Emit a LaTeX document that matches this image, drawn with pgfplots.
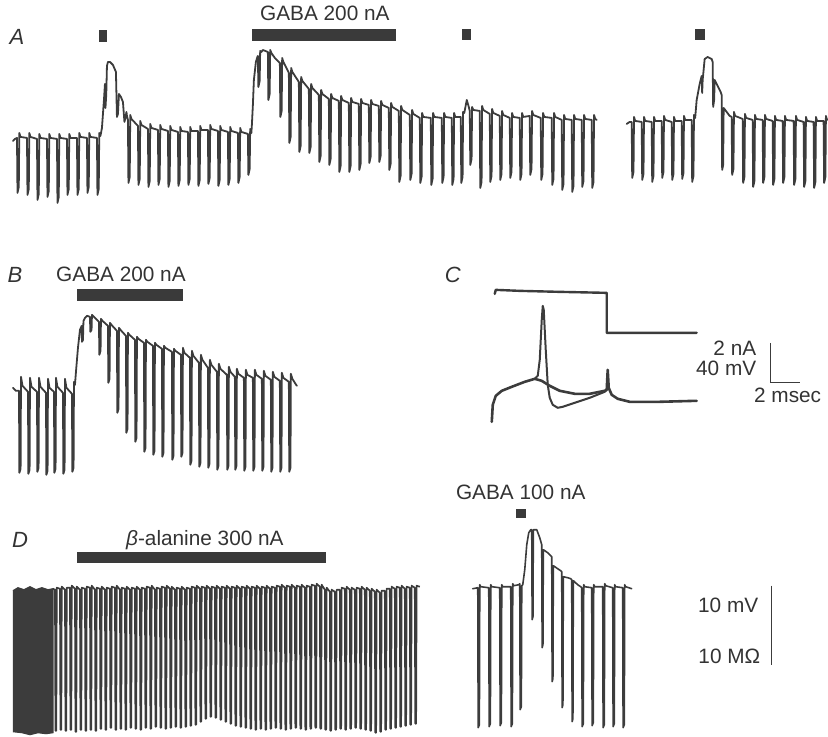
\documentclass[border=0pt]{standalone}
\usepackage{pgfplots}
\pgfplotsset{compat=1.18}
\usepackage{fontspec}
\setmainfont{Liberation Sans}
\definecolor{tr}{HTML}{3C3C3C}
\definecolor{barc}{HTML}{3A3A3A}
\begin{document}
\begin{tikzpicture}[
  trace/.style={draw=tr, line width=0.9pt, line join=round, line cap=round},
  lab/.style={font=\fontsize{10.4}{12}\selectfont, text=black!80, inner sep=0pt},
  pan/.style={font=\fontsize{11}{13}\selectfont\itshape, text=black!80, inner sep=0pt},
]
\begin{axis}[
  width=414pt, height=368.5pt, scale only axis,
  xmin=0, xmax=828, ymin=0, ymax=737, y dir=reverse,
  hide axis, clip=false,
]
\path (axis cs:0,0) rectangle (axis cs:828,737);

% ---- A: application marks
\addplot[fill=barc, draw=none] coordinates {(99,30) (107,30) (107,42) (99,42)};
\addplot[fill=barc, draw=none] coordinates {(252,29) (396,29) (396,41) (252,41)};
\addplot[fill=barc, draw=none] coordinates {(462,29) (471,29) (471,40) (462,40)};
\addplot[fill=barc, draw=none] coordinates {(695,29) (705,29) (705,40) (695,40)};

% ---- A: first trace
\addplot[trace] coordinates {
(13,141) (15,139)
(17,138) (17.5,193) (18.8,187) (19.3,133) (20.5,137)
(27,138) (27.5,195) (28.8,189) (29.3,133) (30.5,137)
(37,139) (37.5,200) (38.8,194) (39.3,134) (40.5,138)
(47,139) (47.5,197) (48.8,191) (49.3,134) (50.5,138)
(57,139) (57.5,203) (58.8,197) (59.3,134) (60.5,138)
(67,139) (67.5,195) (68.8,189) (69.3,134) (70.5,138)
(77,138) (77.5,195) (78.8,189) (79.3,133) (80.5,137)
(87,138) (87.5,193) (88.8,187) (89.3,133) (90.5,137)
(97,138) (97.5,195) (98.8,189) (99.3,133) (100.5,136)
(102,128) (104,100) (105,84) (105.5,108) (106.3,95) (107,66) (108,62) (110,62) (113,65) (116,72)
(117,117) (118,114) (119,94) (121,97) (123,102) (124.5,122) (125.5,118) (126.5,112) (127,116)
(128,120) (128.5,183) (129.8,177) (130.3,115) (131.5,119)
(138,126) (138.5,185) (139.8,179) (140.3,121) (141.5,125)
(148,129) (148.5,187) (149.8,181) (150.3,124) (151.5,128)
(158,130) (158.5,185) (159.8,179) (160.3,125) (161.5,129)
(168,131) (168.5,187) (169.8,181) (170.3,126) (171.5,130)
(178,132) (178.5,186) (179.8,180) (180.3,127) (181.5,131)
(188,132) (188.5,185) (189.8,179) (190.3,127) (191.5,131)
(198,131) (198.5,186) (199.8,180) (200.3,126) (201.5,130)
(208,130) (208.5,184) (209.8,178) (210.3,125) (211.5,129)
(218,131) (218.5,186) (219.8,180) (220.3,126) (221.5,130)
(228,132) (228.5,185) (229.8,179) (230.3,127) (231.5,131)
(238,133) (238.5,183) (239.8,177) (240.3,128) (241.5,132)
(248,134) (248.5,175) (249.8,169) (250.3,129) (251.5,133)
(252,125) (253,105) (254,80) (256,62) (257.5,57)
(258,56) (258.5,87) (259.8,81) (260.3,51) (261.5,52) (263,50)
(268,52) (268.5,100) (269.8,94) (270.3,50) (271.5,53) (275,58)
(280,63) (280.5,117) (281.8,111) (282.3,58) (283.5,62)
(289,73) (289.5,143) (290.8,137) (291.3,68) (292.5,72)
(299,82) (299.5,152) (300.8,146) (301.3,77) (302.5,81)
(309,89) (309.5,153) (310.8,147) (311.3,84) (312.5,88)
(319,95) (319.5,162) (320.8,156) (321.3,90) (322.5,94)
(329,99) (329.5,165) (330.8,159) (331.3,94) (332.5,98)
(339,101) (339.5,172) (340.8,166) (341.3,96) (342.5,100)
(349,103) (349.5,172) (350.8,166) (351.3,98) (352.5,102)
(359,104) (359.5,170) (360.8,164) (361.3,99) (362.5,103)
(369,105) (369.5,163) (370.8,157) (371.3,100) (372.5,104)
(379,106) (379.5,162) (380.8,156) (381.3,101) (382.5,105)
(389,108) (389.5,170) (390.8,164) (391.3,103) (392.5,107)
(399,111) (399.5,182) (400.8,176) (401.3,106) (402.5,110)
(410,115) (410.5,180) (411.8,174) (412.3,110) (413.5,114)
(420,118) (420.5,183) (421.8,177) (422.3,113) (423.5,117)
(431,118) (431.5,185) (432.8,179) (433.3,113) (434.5,117)
(442,118) (442.5,183) (443.8,177) (444.3,113) (445.5,117)
(452,118) (452.5,185) (453.8,179) (454.3,113) (455.5,117)
(461,117) (461.5,183) (462.8,177) (463.3,112) (464.5,113) (467,100) (469,107)
(470,111) (470.5,165) (471.8,159) (472.3,107) (473.5,110)
(480,111) (480.5,188) (481.8,182) (482.3,106) (483.5,110)
(490,114) (490.5,182) (491.8,176) (492.3,109) (493.5,113)
(500,116) (500.5,180) (501.8,174) (502.3,111) (503.5,115)
(510,118) (510.5,178) (511.8,172) (512.3,113) (513.5,117)
(520,118) (520.5,180) (521.8,174) (522.3,113) (523.5,117)
(530,116) (530.5,175) (531.8,169) (532.3,111) (533.5,115)
(541,118) (541.5,180) (542.8,174) (543.3,113) (544.5,117)
(552,118) (552.5,185) (553.8,179) (554.3,113) (555.5,117)
(562,120) (562.5,190) (563.8,184) (564.3,115) (565.5,119)
(572,120) (572.5,192) (573.8,186) (574.3,115) (575.5,119)
(582,120) (582.5,187) (583.8,181) (584.3,115) (585.5,119)
(592,120) (592.5,188) (593.8,182) (594.3,115) (595.5,119) (597,120)
};

% ---- A: second trace
\addplot[trace] coordinates {
(627,124) (630,122)
(632,122) (632.5,178) (633.8,172) (634.3,117) (635.5,121)
(642,122) (642.5,180) (643.8,174) (644.3,117) (645.5,121)
(652,122) (652.5,182) (653.8,176) (654.3,117) (655.5,121)
(662,121) (662.5,178) (663.8,172) (664.3,116) (665.5,120)
(672,122) (672.5,180) (673.8,174) (674.3,117) (675.5,121)
(682,121) (682.5,179) (683.8,173) (684.3,116) (685.5,120)
(692,120) (692.5,182) (693.8,176) (694.3,115) (695.5,118)
(697,100) (700,84) (702,76) (702.5,93) (703,80) (705,59) (708,57) (712,59) (713,62)
(713.5,107) (714.5,100) (715,80) (718,86) (721,92) (722,95)
(722.5,170) (723.5,165) (724,108) (727,112) (730,116)
(732,117) (732.5,175) (733.8,169) (734.3,112) (735.5,116)
(743,119) (743.5,183) (744.8,177) (745.3,114) (746.5,118)
(753,120) (753.5,187) (754.8,181) (755.3,115) (756.5,119)
(763,120) (763.5,183) (764.8,177) (765.3,115) (766.5,119)
(773,121) (773.5,185) (774.8,179) (775.3,116) (776.5,120)
(783,121) (783.5,183) (784.8,177) (785.3,116) (786.5,120)
(794,121) (794.5,185) (795.8,179) (796.3,116) (797.5,120)
(804,122) (804.5,187) (805.8,181) (806.3,117) (807.5,121)
(814,122) (814.5,188) (815.8,182) (816.3,117) (817.5,121)
(824,121) (824.5,183) (825.8,177) (826.3,116) (827.5,120)
};

\node[pan] at (axis cs:17,37) {A};
\node[lab, anchor=base] at (axis cs:325,21) {GABA 200 nA};

% ---- B
\addplot[fill=barc, draw=none] coordinates {(77,289) (183,289) (183,301) (77,301)};
\addplot[trace] coordinates {
(13,388) (16,391)
(19,391) (19.4,473) (20.6,469) (21,377) (22.5,386)
(28,392) (28.4,474) (29.6,470) (30,378) (31.5,387)
(37,392) (37.4,472) (38.6,468) (39,378) (40.5,387)
(46,393) (46.4,475) (47.6,471) (48,379) (49.5,388)
(54,392) (54.4,473) (55.6,469) (56,378) (57.5,387)
(63,393) (63.4,474) (64.6,470) (65,379) (66.5,388)
(72,394) (72.4,472) (73.6,468) (74,382) (75,385) (76,372) (78,348) (80,330)
(81.7,326) (82,342) (83,340) (83.5,321) (85,318) (87,316)
(90,317) (90.4,332) (91.6,330) (92,315) (94,317)
(99,322) (99.4,355) (100.6,351) (101,319) (102.5,321)
(108,326) (108.4,383) (109.6,379) (110,323) (111.5,325)
(117,331) (117.4,413) (118.6,409) (119,328) (120.5,330)
(126,336) (126.4,433) (127.6,429) (128,333) (129.5,335)
(135,340) (135.4,442) (136.6,438) (137,337) (138.5,339)
(144,343) (144.4,452) (145.6,448) (146,340) (147.5,342)
(153,346) (153.4,455) (154.6,451) (155,343) (156.5,345)
(162,349) (162.4,457) (163.6,453) (164,346) (165.5,348)
(172,352) (172.4,460) (173.6,456) (174,349) (175.5,351)
(181,355) (181.4,457) (182.6,453) (183,348) (184.5,353)
(190,358) (190.4,465) (191.6,461) (192,351) (193.5,356)
(199,363) (199.4,467) (200.6,463) (201,355) (202.5,360)
(208,368) (208.4,468) (209.6,464) (210,360) (211.5,365)
(217,372) (217.4,470) (218.6,466) (219,364) (220.5,369)
(227,375) (227.4,470) (228.6,466) (229,367) (230.5,372)
(235,377) (235.4,470) (236.6,466) (237,369) (238.5,374)
(244,378) (244.4,471) (245.6,467) (246,370) (247.5,375)
(253,378) (253.4,471) (254.6,467) (255,370) (256.5,375)
(262,379) (262.4,471) (263.6,467) (264,371) (265.5,376)
(271,380) (271.4,472) (272.6,468) (273,372) (274.5,377)
(280,381) (280.4,472) (281.6,468) (282,373) (283.5,378)
(289,382) (289.4,472) (290.6,468) (291,374) (292.5,379) (295,383) (297,386)
};
\node[pan] at (axis cs:15,275) {B};
\node[lab, anchor=base] at (axis cs:121,282) {GABA 200 nA};

% ---- C
\addplot[trace, line width=1.2pt] coordinates {
(495,294) (496,290) (520,291) (560,292) (607,293) (607,333) (697,333)
};
\addplot[trace, line width=1.3pt] coordinates {
(492,422) (493,405) (496,396) (502,391) (512,387) (525,382) (535,379)
(542,381) (550,386) (560,391) (575,394) (590,394) (605,391) (607,390)
(608,370) (609,388) (612,395) (618,399) (630,402) (660,402) (697,401)
};
\addplot[trace, line width=1.0pt] coordinates {
(535,379) (538,376) (540,360) (542,320) (543,306) (544,310) (546,350)
(548,385) (550,398) (553,405) (558,408) (563,407) (575,403) (590,398) (605,392) (607,390)
};
\addplot[draw=tr, line width=0.55pt] coordinates {(771,343) (771,383) (800,383)};
\node[pan] at (axis cs:453,275) {C};
\node[lab, anchor=base east] at (axis cs:757,356) {2 nA};
\node[lab, anchor=base east] at (axis cs:757,376) {40 mV};
\node[lab, anchor=base] at (axis cs:788,403) {2 msec};

% ---- D
\addplot[fill=barc, draw=none] coordinates {(77,552) (326,552) (326,563) (77,563)};
\addplot[fill=tr, draw=tr, line width=0.6pt] coordinates {
(13,591) (18,588) (24,590) (30,587) (36,590) (42,588) (48,590) (53,589)
(53,733) (46,734) (38,733) (30,735) (22,733) (13,732)
};
\addplot[draw=tr, line width=0.85pt, line join=round] coordinates {
(53,589)
(55,590)(55.5,731)(56.3,731)(56.8,588)
(60,589)(60.5,730)(61.3,730)(61.8,587)
(65,590)(65.5,731)(66.3,731)(66.8,588)
(70,588)(70.5,730)(71.3,730)(71.8,586)
(75,589)(75.5,732)(76.3,732)(76.8,587)
(80,590)(80.5,730)(81.3,730)(81.8,588)
(85,589)(85.5,731)(86.3,731)(86.8,587)
(90,588)(90.5,730)(91.3,730)(91.8,586)
(95,590)(95.5,731)(96.3,731)(96.8,588)
(100,589)(100.5,729)(101.3,729)(101.8,587)
(105,590)(105.5,730)(106.3,730)(106.8,588)
(110,589)(110.5,728)(111.3,728)(111.8,587)
(115,588)(115.5,730)(116.3,730)(116.8,586)
(120,590)(120.5,729)(121.3,729)(121.8,588)
(125,589)(125.5,730)(126.3,730)(126.8,587)
(130,590)(130.5,728)(131.3,728)(131.8,588)
(135,589)(135.5,729)(136.3,729)(136.8,587)
(140,590)(140.5,730)(141.3,730)(141.8,588)
(145,589)(145.5,728)(146.3,728)(146.8,587)
(150,588)(150.5,729)(151.3,729)(151.8,586)
(155,590)(155.5,727)(156.3,727)(156.8,588)
(160,589)(160.5,728)(161.3,728)(161.8,587)
(165,588)(165.5,729)(166.3,729)(166.8,586)
(170,589)(170.5,728)(171.3,728)(171.8,587)
(175,590)(175.5,727)(176.3,727)(176.8,588)
(180,589)(180.5,728)(181.3,728)(181.8,587)
(185,590)(185.5,727)(186.3,727)(186.8,588)
(190,589)(190.5,726)(191.3,726)(191.8,587)
(195,588)(195.5,725)(196.3,725)(196.8,586)
(200,589)(200.5,722)(201.3,722)(201.8,587)
(205,588)(205.5,719)(206.3,719)(206.8,586)
(210,589)(210.5,717)(211.3,717)(211.8,587)
(215,588)(215.5,718)(216.3,718)(216.8,586)
(220,589)(220.5,720)(221.3,720)(221.8,587)
(225,588)(225.5,722)(226.3,722)(226.8,586)
(230,589)(230.5,724)(231.3,724)(231.8,587)
(235,588)(235.5,726)(236.3,726)(236.8,586)
(240,589)(240.5,727)(241.3,727)(241.8,587)
(245,588)(245.5,728)(246.3,728)(246.8,586)
(250,589)(250.5,729)(251.3,729)(251.8,587)
(255,588)(255.5,730)(256.3,730)(256.8,586)
(260,589)(260.5,729)(261.3,729)(261.8,587)
(265,588)(265.5,730)(266.3,730)(266.8,586)
(270,589)(270.5,729)(271.3,729)(271.8,587)
(275,588)(275.5,728)(276.3,728)(276.8,586)
(280,587)(280.5,729)(281.3,729)(281.8,585)
(285,588)(285.5,730)(286.3,730)(286.8,586)
(290,587)(290.5,729)(291.3,729)(291.8,585)
(295,588)(295.5,728)(296.3,728)(296.8,586)
(300,587)(300.5,729)(301.3,729)(301.8,585)
(305,588)(305.5,730)(306.3,730)(306.8,586)
(310,587)(310.5,729)(311.3,729)(311.8,585)
(315,586)(315.5,728)(316.3,728)(316.8,584)
(320,587)(320.5,729)(321.3,729)(321.8,585)
(325,590)(325.5,730)(326.3,730)(326.8,588)
(330,592)(330.5,731)(331.3,731)(331.8,590)
(335,592)(335.5,730)(336.3,730)(336.8,590)
(340,590)(340.5,729)(341.3,729)(341.8,588)
(345,589)(345.5,730)(346.3,730)(346.8,587)
(350,590)(350.5,729)(351.3,729)(351.8,588)
(355,590)(355.5,728)(356.3,728)(356.8,588)
(360,589)(360.5,729)(361.3,729)(361.8,587)
(365,590)(365.5,730)(366.3,730)(366.8,588)
(370,591)(370.5,731)(371.3,731)(371.8,589)
(375,592)(375.5,733)(376.3,733)(376.8,590)
(380,593)(380.5,732)(381.3,732)(381.8,591)
(385,591)(385.5,730)(386.3,730)(386.8,589)
(390,589)(390.5,729)(391.3,729)(391.8,587)
(395,589)(395.5,728)(396.3,728)(396.8,587)
(400,588)(400.5,727)(401.3,727)(401.8,586)
(405,589)(405.5,726)(406.3,726)(406.8,587)
(410,588)(410.5,725)(411.3,725)(411.8,586)
(415,588)(415.5,724)(416.3,724)(416.8,586)
(420,587)
};
\node[pan] at (axis cs:20,540) {D};
\node[lab, anchor=base] at (axis cs:205,546) {{\itshape β}-alanine 300 nA};

% ---- D: GABA 100 nA
\addplot[fill=barc, draw=none] coordinates {(516,509) (526,509) (526,518) (516,518)};
\addplot[trace, line width=0.8pt] coordinates {
(473,589)
(478,588)(478.4,728)(479.6,725)(480,585)(481,587)
(489,588)(489.4,727)(490.6,724)(491,585)(492,587)
(500,588)(500.4,726)(501.6,723)(502,585)(503,587)
(511,587)(511.4,727)(512.6,724)(513,584)(514,586)
(519,585)(520,584)(520.4,710)(521.6,707)(522,586)(523,585)(525,570)(527,545)(529,533)(531,530)
(532,530)(532.4,620)(533.2,617)(533.6,530)(537,530)(540,538)
(542,545)(542.4,648)(543.2,645)(543.6,550)(548,553)(551,556)
(552,557)(552.4,682)(553.2,679)(553.6,566)(558,569)(561,571)
(562,572)(562.4,708)(563.2,705)(563.6,577)(568,578)(571,579)
(572,580)(572.4,722)(573.2,719)(573.6,581)(578,585)(581,587)
(582,588)(582.4,727)(583.6,724)(584,585)(585,587)
(592,588)(592.4,726)(593.6,723)(594,585)(595,587)
(603,587)(603.4,728)(604.6,725)(605,584)(606,586)
(613,588)(613.4,727)(614.6,724)(615,585)(616,587)
(623,588)(623.4,728)(624.6,725)(625,585)(626,587)
(632,589)
};
\node[lab, anchor=base] at (axis cs:521,500) {GABA 100 nA};
\addplot[draw=tr, line width=0.55pt] coordinates {(772,586) (772,665)};
\node[lab, anchor=base east] at (axis cs:759,613) {10 mV};
\node[lab, anchor=base east] at (axis cs:761,664) {10 MΩ};
\end{axis}
\end{tikzpicture}
\end{document}
